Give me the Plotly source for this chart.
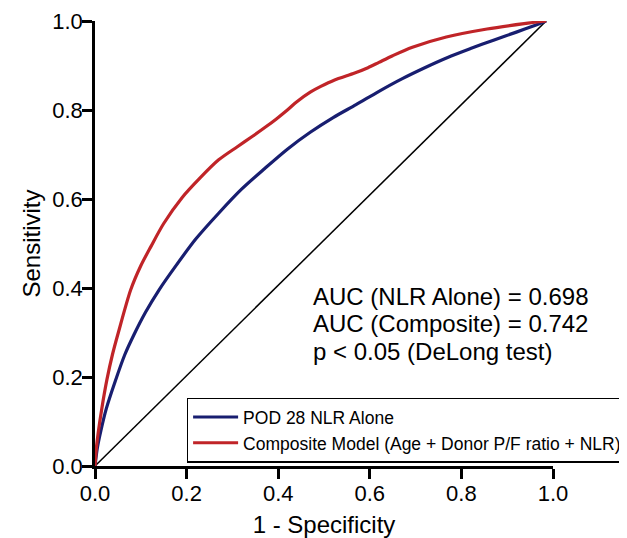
import plotly.graph_objects as go

# ROC curve points (1 - specificity, sensitivity)
nlr_fpr = [0, 0.005, 0.013, 0.025, 0.044, 0.065, 0.085, 0.11, 0.14, 0.178, 0.22, 0.27, 0.32, 0.37, 0.42,
           0.47, 0.52, 0.57, 0.62, 0.67, 0.72, 0.77, 0.82, 0.87, 0.92, 0.96, 0.985]
nlr_tpr = [0, 0.04, 0.08, 0.13, 0.19, 0.25, 0.295, 0.345, 0.396, 0.452, 0.51, 0.568, 0.622, 0.668, 0.712,
           0.75, 0.783, 0.812, 0.842, 0.87, 0.895, 0.918, 0.938, 0.957, 0.975, 0.99, 1.0]

comp_fpr = [0, 0.003, 0.007, 0.015, 0.026, 0.038, 0.051, 0.078, 0.10, 0.122, 0.15, 0.19, 0.23, 0.27, 0.31,
            0.344, 0.37, 0.396, 0.42, 0.44, 0.47, 0.493, 0.522, 0.567, 0.596, 0.62, 0.65, 0.693, 0.767,
            0.856, 0.937, 0.985]
comp_tpr = [0, 0.04, 0.075, 0.13, 0.194, 0.25, 0.30, 0.396, 0.45, 0.493, 0.545, 0.603, 0.648, 0.688, 0.717,
            0.741, 0.76, 0.78, 0.80, 0.818, 0.84, 0.853, 0.867, 0.883, 0.895, 0.907, 0.922, 0.941, 0.964,
            0.982, 0.994, 1.0]

ref_x = [0, 0.985]
ref_y = [0, 1.0]

tick_vals = [0.0, 0.2, 0.4, 0.6, 0.8, 1.0]
tick_text = ["0.0", "0.2", "0.4", "0.6", "0.8", "1.0"]

annot_lines = ["AUC (NLR Alone) = 0.698", "AUC (Composite) = 0.742", "p < 0.05 (DeLong test)"]
annot_y = [0.382, 0.3195, 0.258]

BLUE = "rgb(24,30,112)"
RED = "rgb(192,36,40)"
FONT = "Liberation Sans, Arial, sans-serif"

fig = go.Figure()
fig.add_trace(go.Scatter(x=ref_x, y=ref_y, mode="lines", line=dict(color="black", width=1.5),
                         showlegend=False, hoverinfo="skip"))
fig.add_trace(go.Scatter(x=nlr_fpr, y=nlr_tpr, mode="lines", name="POD 28 NLR Alone",
                         line=dict(color=BLUE, width=3.2, shape="spline", smoothing=0.8)))
fig.add_trace(go.Scatter(x=comp_fpr, y=comp_tpr, mode="lines",
                         name="Composite Model (Age + Donor P/F ratio + NLR)",
                         line=dict(color=RED, width=3.2, shape="spline", smoothing=0.8)))

for txt, yy in zip(annot_lines, annot_y):
    fig.add_annotation(x=0.472, y=yy, xref="x", yref="y", text=txt, showarrow=False,
                       xanchor="left", yanchor="middle", font=dict(size=24, color="black", family=FONT))

axis_common = dict(range=[0, 1], showline=True, linewidth=2.5, linecolor="black",
                   ticks="outside", ticklen=10, tickwidth=2.5, tickcolor="black",
                   tickvals=tick_vals, ticktext=tick_text, showgrid=False, zeroline=False,
                   tickfont=dict(size=22, color="black", family=FONT))

fig.update_xaxes(**axis_common, ticklabelstandoff=-4,
                 title=dict(text="1 - Specificity", font=dict(size=24, color="black", family=FONT), standoff=12))
fig.update_yaxes(**axis_common, ticklabelstandoff=-5,
                 title=dict(text="Sensitivity", font=dict(size=24, color="black", family=FONT), standoff=5))

# the page places the figure 8px from the top-left corner, so the figure is 8px smaller
fig.update_layout(
    width=619, height=530,
    margin=dict(l=87, r=74, t=13, b=72, autoexpand=False),
    paper_bgcolor="white", plot_bgcolor="white",
    font=dict(family=FONT, color="black"),
    legend=dict(x=0.2, y=0.1536, xanchor="left", yanchor="top",
                bordercolor="black", borderwidth=1.5, bgcolor="white",
                font=dict(size=17.5, color="black", family=FONT),
                itemwidth=45, tracegroupgap=0),
)

fig.write_html("out.html")
